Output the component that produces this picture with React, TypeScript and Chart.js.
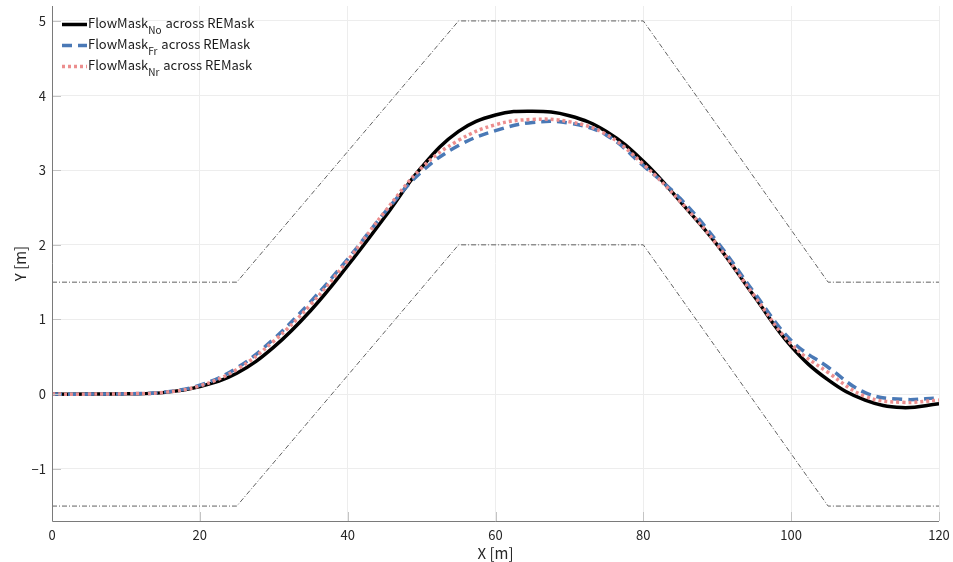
import React, { useEffect, useRef } from "react";
import { Chart, registerables } from "chart.js";

Chart.register(...registerables);

const xs = [0, 5, 10, 15, 20, 25, 30, 35, 40, 45, 50, 55, 60, 65, 70, 75, 80, 85, 90, 95, 100, 105, 110, 115, 120];
const yNo = [0, 0, 0.005, 0.02, 0.1, 0.28, 0.63, 1.12, 1.72, 2.37, 3.04, 3.52, 3.74, 3.79, 3.73, 3.52, 3.12, 2.58, 2.0, 1.31, 0.64, 0.19, -0.08, -0.18, -0.13];
const yFr = [0, 0, 0.005, 0.025, 0.12, 0.35, 0.74, 1.24, 1.81, 2.43, 2.98, 3.33, 3.53, 3.64, 3.63, 3.47, 3.06, 2.62, 2.04, 1.36, 0.72, 0.36, 0.02, -0.07, -0.05];
const yNr = [0, 0, 0.005, 0.022, 0.11, 0.33, 0.71, 1.2, 1.79, 2.44, 3.03, 3.4, 3.61, 3.68, 3.65, 3.48, 3.08, 2.58, 2.0, 1.32, 0.67, 0.29, -0.03, -0.11, -0.08];

const bx = [0, 25, 55, 80, 105, 120];
const bUpper = [1.5, 1.5, 5, 5, 1.5, 1.5];
const bLower = [-1.5, -1.5, 2, 2, -1.5, -1.5];

const xTicks = [0, 20, 40, 60, 80, 100, 120];
const yTicks = [-1, 0, 1, 2, 3, 4, 5];

const legendItems = [
  { sub: "No", color: "#000000", dash: [] as number[], width: 3.5 },
  { sub: "Fr", color: "#4a79b6", dash: [10, 6], width: 3.5 },
  { sub: "Nr", color: "#ec8e8e", dash: [3, 3], width: 3.5 },
];

const FONT = "'Noto Sans CJK JP', 'Noto Sans', sans-serif";

const zip = (a: number[], b: number[]) => a.map((v, i) => ({ x: v, y: b[i] }));

export default function App() {
  const ref = useRef<HTMLCanvasElement | null>(null);
  useEffect(() => {
    document.body.style.margin = "0";
    const canvas = ref.current!;
    const extras = {
      id: "extras",
      afterDatasetsDraw(chart: any) {
        const ctx = chart.ctx;
        const { left, right, top, bottom } = chart.chartArea;
        const xs_ = chart.scales.x;
        const ys_ = chart.scales.y;
        ctx.save();
        ctx.strokeStyle = "#c4c4c4";
        ctx.lineWidth = 1;
        ctx.beginPath();
        for (const t of yTicks) {
          const p = Math.round(ys_.getPixelForValue(t)) + 0.5;
          ctx.moveTo(left, p);
          ctx.lineTo(left + 9, p);
        }
        for (const t of xTicks) {
          const p = Math.round(xs_.getPixelForValue(t)) + 0.5;
          ctx.moveTo(p, bottom);
          ctx.lineTo(p, bottom - 9);
        }
        ctx.stroke();
        ctx.strokeStyle = "#7a7a7a";
        ctx.beginPath();
        ctx.moveTo(left + 0.5, top);
        ctx.lineTo(left + 0.5, bottom + 0.5);
        ctx.lineTo(right, bottom + 0.5);
        ctx.stroke();
        let y0 = 24;
        for (const it of legendItems) {
          ctx.strokeStyle = it.color;
          ctx.lineWidth = it.width;
          ctx.setLineDash(it.dash);
          ctx.beginPath();
          ctx.moveTo(62, y0 + 0.5);
          ctx.lineTo(87, y0 + 0.5);
          ctx.stroke();
          ctx.setLineDash([]);
          ctx.fillStyle = "#1a1a1a";
          ctx.textBaseline = "middle";
          ctx.textAlign = "left";
          ctx.font = `13px ${FONT}`;
          const main = "FlowMask";
          ctx.fillText(main, 88, y0 - 1);
          const w = ctx.measureText(main).width;
          ctx.font = `10px ${FONT}`;
          ctx.fillText(it.sub, 88 + w, y0 + 6);
          const sw = ctx.measureText(it.sub).width;
          ctx.font = `13px ${FONT}`;
          ctx.fillText(" across REMask", 88 + w + sw + 1, y0 - 1);
          y0 += 21;
        }
        ctx.restore();
      },
    };
    const bStyle = {
      borderColor: "#606060",
      borderWidth: 1,
      borderDash: [5, 2, 1, 2],
      pointRadius: 0,
      fill: false,
      tension: 0,
      order: 4,
    };
    const curve = { pointRadius: 0, borderWidth: 3.5, tension: 0.4, fill: false };
    const chart = new Chart(canvas, {
      type: "line",
      data: {
        datasets: [
          { ...bStyle, data: zip(bx, bUpper) },
          { ...bStyle, data: zip(bx, bLower) },
          { ...curve, data: zip(xs, yNo), borderColor: "#000000", order: 3 },
          { ...curve, data: zip(xs, yFr), borderColor: "#4a79b6", borderDash: [10, 6], order: 2 },
          { ...curve, data: zip(xs, yNr), borderColor: "#ec8e8e", borderDash: [3, 3], order: 1 },
        ] as any,
      },
      options: {
        responsive: false,
        animation: false,
        layout: { padding: { top: 6, right: 14, left: 0, bottom: 0 } },
        plugins: { legend: { display: false }, tooltip: { enabled: false } },
        scales: {
          x: {
            type: "linear",
            min: 0,
            max: 120,
            afterBuildTicks: (s: any) => {
              s.ticks = xTicks.map((v) => ({ value: v }));
            },
            afterFit: (s: any) => {
              s.height = 41;
              s.paddingLeft = 0;
              s.paddingRight = 0;
            },
            grid: { color: "#ededed", drawTicks: false },
            border: { display: false },
            ticks: {
              color: "#262626",
              font: { family: FONT, size: 13 },
              padding: 6,
              maxRotation: 0,
            },
            title: {
              display: true,
              text: "X [m]",
              color: "#262626",
              font: { family: FONT, size: 15 },
              padding: { top: 0, bottom: 0 },
            },
          },
          y: {
            type: "linear",
            min: -1.7,
            max: 5.2,
            afterBuildTicks: (s: any) => {
              s.ticks = yTicks.map((v) => ({ value: v }));
            },
            afterFit: (s: any) => {
              s.width = 52;
              s.paddingTop = 0;
              s.paddingBottom = 0;
            },
            grid: { color: "#ededed", drawTicks: false },
            border: { display: false },
            ticks: {
              color: "#262626",
              font: { family: FONT, size: 13 },
              padding: 6,
              callback: (v: any) => String(v).replace("-", "\u2212"),
            },
            title: {
              display: true,
              text: "Y [m]",
              color: "#262626",
              font: { family: FONT, size: 15 },
              padding: { top: 11, bottom: 0 },
            },
          },
        },
      },
      plugins: [extras],
    } as any);
    return () => chart.destroy();
  }, []);
  return (
    <canvas
      ref={ref}
      width={953}
      height={562}
      style={{ display: "block", width: 953, height: 562 }}
    />
  );
}
